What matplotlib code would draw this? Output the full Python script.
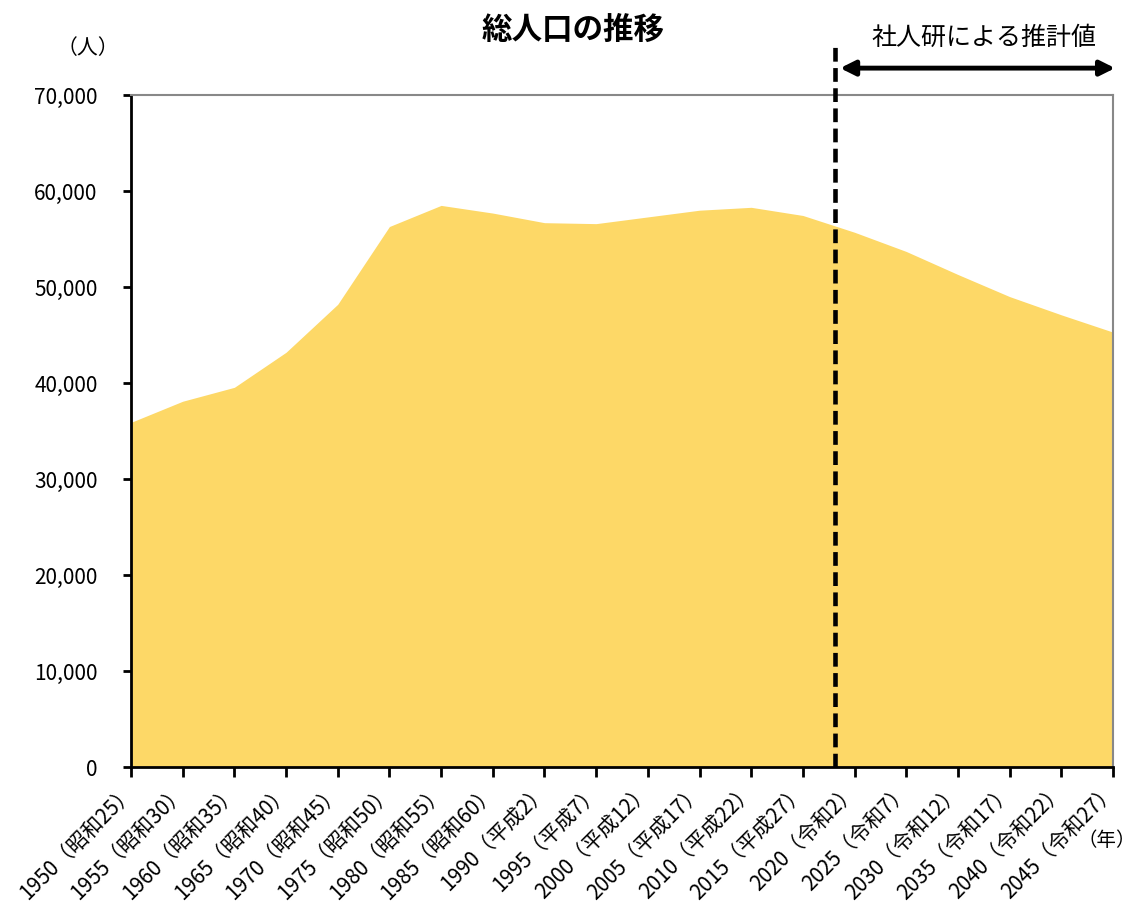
import matplotlib
matplotlib.use("Agg")
import matplotlib.pyplot as plt
import matplotlib.transforms as mtransforms
from matplotlib.ticker import FuncFormatter

plt.rcParams['font.family'] = ['Noto Sans CJK JP', 'DejaVu Sans']

# Data
years = [1950, 1955, 1960, 1965, 1970, 1975, 1980, 1985, 1990, 1995,
         2000, 2005, 2010, 2015, 2020, 2025, 2030, 2035, 2040, 2045]
eras = ['昭和25', '昭和30', '昭和35', '昭和40', '昭和45', '昭和50', '昭和55', '昭和60',
        '平成2', '平成7', '平成12', '平成17', '平成22', '平成27',
        '令和2', '令和7', '令和12', '令和17', '令和22', '令和27']
population = [35900, 38100, 39550, 43200, 48200, 56300, 58500, 57700, 56700, 56600,
              57300, 58000, 58300, 57450, 55700, 53700, 51300, 49000, 47100, 45300]
projection_start = 2018.1   # position of the dashed divider

labels = [f'{y}（{e}）' for y, e in zip(years, eras)]
xpos = list(range(len(years)))
divider_x = (projection_start - years[0]) / 5

fig = plt.figure(figsize=(11.38, 9.1), dpi=100)
ax = fig.add_axes([131 / 1138, 1 - 767 / 910, (1113 - 131) / 1138, (767 - 95) / 910])

# Area
ax.fill_between(xpos, population, 0, color='#FDD867', linewidth=0)

ax.set_xlim(0, len(years) - 1)
ax.set_ylim(0, 70000)
ax.set_yticks(range(0, 70001, 10000))
ax.yaxis.set_major_formatter(FuncFormatter(lambda v, p: f'{int(v):,}'))
ax.tick_params(axis='y', labelsize=15, length=6, width=2, pad=18)
ax.set_xticks(xpos)
ax.set_xticklabels(labels, rotation=45, ha='right', va='center',
                   rotation_mode='anchor', fontsize=15)
ax.tick_params(axis='x', length=7, width=2, pad=8)

for side in ['left', 'bottom']:
    ax.spines[side].set_linewidth(2)
    ax.spines[side].set_color('black')
for side in ['top', 'right']:
    ax.spines[side].set_linewidth(1.5)
    ax.spines[side].set_color('#888888')

# Divider between actual and projected values
trans = mtransforms.blended_transform_factory(ax.transData, ax.transAxes)
ax.plot([divider_x, divider_x], [0, 1.074], transform=trans, color='black',
        lw=3.3, linestyle=(0, (3.0, 1.4)), clip_on=False, zorder=5)

# Arrow for projection period
ax.annotate('', xy=(19.04, 1.040), xytext=(divider_x + 0.1, 1.040),
            xycoords=trans, textcoords=trans,
            arrowprops=dict(arrowstyle='<|-|>', lw=3.5, color='black',
                            mutation_scale=22, shrinkA=0, shrinkB=0),
            annotation_clip=False)
ax.text(16.5, 1.085, '社人研による推計値', transform=trans, ha='center', va='center',
        fontsize=18)

fig.text(0.504, 0.967, '総人口の推移', ha='center', va='center',
         fontsize=22, fontweight='bold')
fig.text(88 / 1138, 1 - 48 / 910, '（人）', ha='center', va='center', fontsize=15)
fig.text(1136 / 1138, 1 - 840 / 910, '（年）', ha='right', va='center', fontsize=14)

fig.savefig('out.png', dpi=100)
